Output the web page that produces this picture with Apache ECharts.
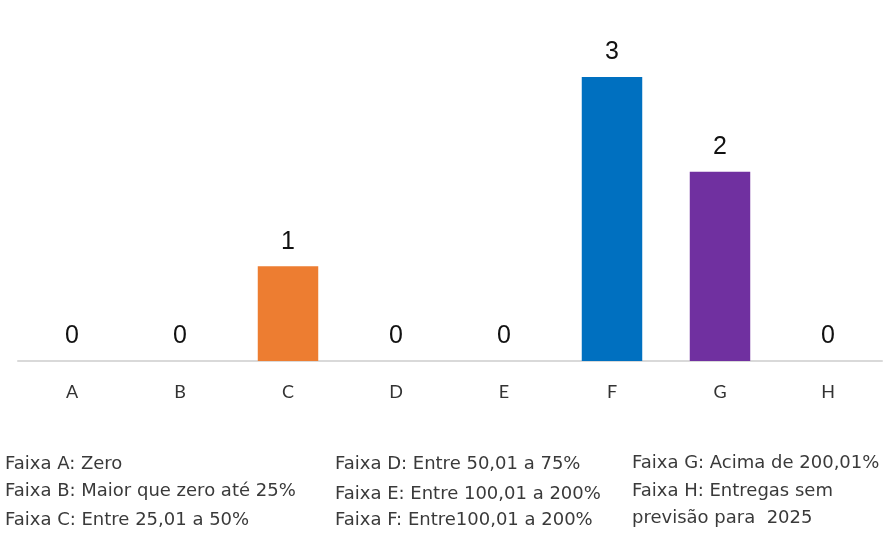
<!DOCTYPE html>
<html><head><meta charset="utf-8">
<script src="https://cdn.jsdelivr.net/npm/echarts@6/dist/echarts.min.js"></script>
<style>html,body{margin:0;padding:0;background:#fff}#c{width:885px;height:553px}</style>
</head><body><div id="c"></div>
<script>
const categories = ['A','B','C','D','E','F','G','H'];
const values = [0,0,1,0,0,3,2,0];
const barColors = ['#ED7D31','#ED7D31','#ED7D31','#ED7D31','#ED7D31','#0070C0','#7030A0','#ED7D31'];
const notesCol1 = ['Faixa A: Zero','Faixa B: Maior que zero até 25%','Faixa C: Entre 25,01 a 50%'];
const notesCol2 = ['Faixa D: Entre 50,01 a 75%','Faixa E: Entre 100,01 a 200%','Faixa F: Entre100,01 a 200%'];
const notesCol3 = ['Faixa G: Acima de 200,01%','Faixa H: Entregas sem','previsão para  2025'];

const chart = echarts.init(document.getElementById('c'));
const noteFont = {fontFamily:"'DejaVu Sans'", fontSize:18, fill:'#3a3a3a'};
function col(lines, x, ys){
  return lines.map((t,i)=>({type:'text', left:x, top:ys[i], style:Object.assign({text:t}, noteFont)}));
}
chart.setOption({
  animation:false,
  grid:{left:18, right:3, top:77, bottom:192},
  xAxis:{type:'category', data:categories,
    axisLine:{lineStyle:{color:'#d9d9d9', width:2}},
    axisTick:{show:false},
    axisLabel:{margin:22, fontSize:18, color:'#333', fontFamily:'Lato, sans-serif'}},
  yAxis:{type:'value', min:0, max:3, show:false, splitLine:{show:false}},
  series:[{type:'bar', data:values.map((v,i)=>({value:v, itemStyle:{color:barColors[i]}})),
    barWidth:'56%',
    label:{show:true, position:'top', distance:12, fontSize:25, color:'#111', fontFamily:'Liberation Sans, Arial, sans-serif'}}],
  graphic:[].concat(
    col(notesCol1, 5, [455,482,511]),
    col(notesCol2, 335, [455,485,511]),
    col(notesCol3, 632, [454,482,509])
  )
});
</script></body></html>
